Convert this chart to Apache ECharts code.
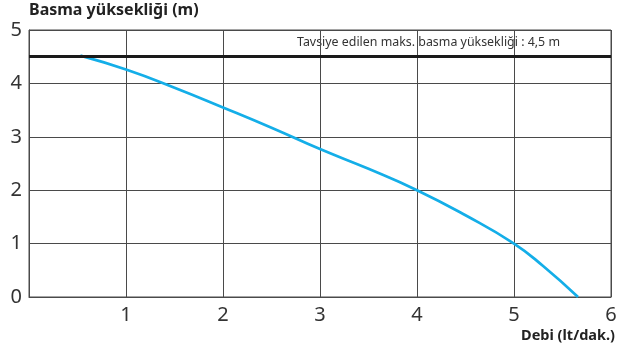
<!DOCTYPE html>
<html>
<head>
    <meta charset="UTF-8">
    <title>Basma yüksekliği</title>
    <script src="https://cdn.jsdelivr.net/npm/echarts@6/dist/echarts.min.js"></script>
</head>
<body style="margin:0;">
<div id="chart" style="width:624px; height:347px;"></div>
<script>
    // debi (lt/dak.) - basma yüksekliği (m)
    var debi = [0.53, 1.0, 1.5, 2.0, 2.5, 3.0, 3.5, 4.0, 4.5, 5.0, 5.3, 5.66];
    var yukseklik = [4.52, 4.26, 3.92, 3.55, 3.17, 2.77, 2.40, 2.0, 1.53, 1.0, 0.58, 0.0];
    var maksYukseklik = 4.5;
    var xTicks = [0, 1, 2, 3, 4, 5, 6];
    var yTicks = [0, 1, 2, 3, 4, 5];

    var pts = debi.map(function (d, i) { return [d, yukseklik[i]]; });
    var gridColor = '#4a4a4a';

    var chart = echarts.init(document.getElementById('chart'), null, {renderer: 'canvas'});
    var option = {
        animation: false,
        grid: {left: 29, right: 13, top: 30, bottom: 50, show: true, borderColor: gridColor, borderWidth: 1},
        xAxis: {
            type: 'value', min: xTicks[0], max: xTicks[xTicks.length - 1], interval: 1,
            axisLine: {lineStyle: {color: gridColor, width: 1}},
            axisTick: {show: false},
            splitLine: {lineStyle: {color: gridColor, width: 1}},
            axisLabel: {
                color: '#333', fontSize: 20, fontFamily: 'Noto Sans', margin: 8,
                formatter: function (v) { return v === 0 ? '' : String(v); }
            }
        },
        yAxis: {
            type: 'value', min: yTicks[0], max: yTicks[yTicks.length - 1], interval: 1,
            axisLine: {show: true, lineStyle: {color: gridColor, width: 1}},
            axisTick: {show: false},
            splitLine: {lineStyle: {color: gridColor, width: 1}},
            axisLabel: {color: '#333', fontSize: 20, fontFamily: 'Noto Sans', margin: 7}
        },
        graphic: [
            {type: 'text', left: 29, top: 2,
             style: {text: 'Basma yüksekliği (m)', font: 'bold 16px "Noto Sans"', fill: '#222'}},
            {type: 'text', right: 9, top: 328,
             style: {text: 'Debi (lt/dak.)', font: 'bold 14.5px "Noto Sans"', fill: '#222'}},
            {type: 'text', left: 297, top: 36,
             style: {text: 'Tavsiye edilen maks. basma yüksekliği : 4,5 m', font: '12.4px "Noto Sans"', fill: '#333'}}
        ],
        series: [{
            type: 'line',
            data: pts,
            smooth: 0.5,
            symbol: 'none',
            lineStyle: {color: '#14aee8', width: 2.7},
            markLine: {
                silent: true,
                symbol: 'none',
                label: {show: false},
                lineStyle: {color: '#1a1a1a', width: 3, type: 'solid'},
                data: [{yAxis: maksYukseklik}]
            },
            z: 3
        }]
    };
    chart.setOption(option);
</script>
</body>
</html>
